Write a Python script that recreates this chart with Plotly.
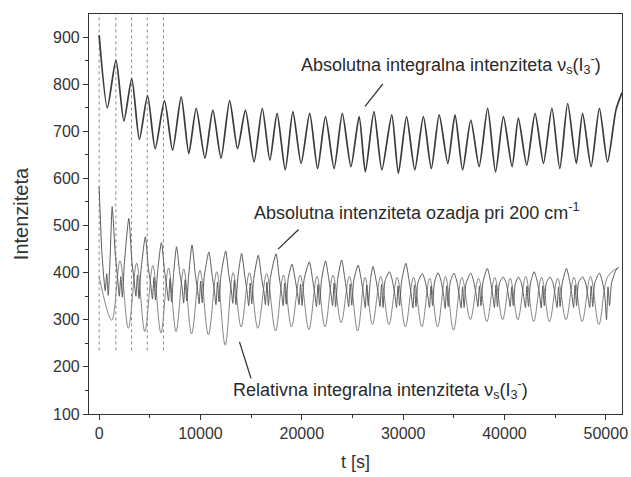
import plotly.graph_objects as go

# ---------------- data ----------------
# Upper curve: Absolutna integralna intenziteta  (alternating peaks / troughs)
abs_peak_t = [0, 1660, 3220, 4780, 6450, 8100, 9580, 11220, 12880, 14440, 16100, 17560,
              19120, 20780, 22340, 24000, 25660, 27120, 28880, 30340, 32000, 33560, 35120,
              36680, 38340, 39900, 41370, 43020, 44680, 46240, 47710, 49370]
abs_peak_v = [904, 851, 812, 776, 765, 773, 749, 745, 765, 745, 749, 738, 742, 738, 731, 738,
              731, 742, 735, 731, 731, 735, 735, 724, 749, 731, 728, 738, 749, 759, 738, 749]
abs_trough_t = [810, 2440, 3970, 5530, 7250, 8850, 10440, 12030, 13660, 15290, 16850, 18370,
                19930, 21560, 23190, 24850, 26270, 27900, 29530, 31150, 32780, 34410, 35870,
                37500, 39120, 40750, 42200, 43850, 45460, 47090, 48550, 50170]
abs_trough_v = [750, 722, 683, 663, 660, 653, 643, 643, 663, 635, 639, 618, 632, 621, 621, 625,
                614, 618, 611, 618, 621, 632, 618, 625, 614, 625, 628, 632, 621, 632, 625, 635]
abs_end_t = [51000, 51600]
abs_end_v = [745, 782]

# Background intensity at 200 cm-1 (noisy), per cycle: list of (t, value)
bg_cycles = [
    [(0, 582), (250, 450), (450, 392), (600, 362), (750, 398), (900, 352), (1080, 430)],
    [(1290, 540), (1590, 440), (1840, 385), (1990, 350), (2140, 392), (2290, 348), (2490, 420)],
    [(2930, 515), (3230, 425), (3480, 378), (3630, 350), (3780, 395), (3930, 345), (4130, 405)],
    [(4560, 476), (4860, 410), (5110, 372), (5260, 344), (5410, 390), (5560, 342), (5760, 400)],
    [(6150, 464), (6450, 405), (6700, 365), (6850, 340), (7000, 388), (7150, 338), (7350, 398)],
    [(7640, 455), (7940, 402), (8190, 368), (8340, 336), (8490, 385), (8640, 340), (8840, 395)],
    [(9170, 459), (9470, 400), (9720, 362), (9870, 334), (10020, 382), (10170, 336), (10370, 392)],
    [(10830, 444), (11130, 398), (11380, 360), (11530, 332), (11680, 380), (11830, 338), (12030, 395)],
    [(12490, 446), (12790, 396), (13040, 364), (13190, 335), (13340, 384), (13490, 332), (13690, 390)],
    [(14060, 441), (14360, 395), (14610, 358), (14760, 330), (14910, 378), (15060, 334), (15260, 388)],
    [(15710, 437), (16010, 392), (16260, 360), (16410, 332), (16560, 380), (16710, 330), (16910, 390)],
    [(17460, 440), (17760, 392), (18010, 356), (18160, 330), (18310, 378), (18460, 333), (18660, 388)],
    [(19030, 418), (19330, 388), (19580, 355), (19730, 332), (19880, 376), (20030, 330), (20230, 386)],
    [(20750, 423), (21050, 388), (21300, 352), (21450, 328), (21600, 375), (21750, 332), (21950, 385)],
    [(22340, 425), (22640, 390), (22890, 354), (23040, 330), (23190, 378), (23340, 328), (23540, 386)],
    [(23930, 427), (24230, 390), (24480, 352), (24630, 328), (24780, 376), (24930, 331), (25130, 384)],
    [(25560, 416), (25860, 386), (26110, 350), (26260, 326), (26410, 374), (26560, 330), (26760, 382)],
    [(27020, 413), (27320, 385), (27570, 352), (27720, 328), (27870, 375), (28020, 326), (28220, 383)],
    [(28650, 402), (28950, 382), (29200, 350), (29350, 326), (29500, 372), (29650, 330), (29850, 382)],
    [(30270, 420), (30570, 386), (30820, 350), (30970, 325), (31120, 374), (31270, 328), (31470, 380)],
    [(31900, 398), (32200, 380), (32450, 348), (32600, 326), (32750, 372), (32900, 330), (33100, 380)],
    [(33450, 400), (33750, 382), (34000, 350), (34150, 324), (34300, 372), (34450, 328), (34650, 380)],
    [(35020, 399), (35320, 380), (35570, 346), (35720, 325), (35870, 370), (36020, 326), (36220, 378)],
    [(36680, 399), (36980, 380), (37230, 350), (37380, 328), (37530, 372), (37680, 330), (37880, 380)],
    [(38310, 409), (38610, 384), (38860, 350), (39010, 326), (39160, 374), (39310, 328), (39510, 378)],
    [(39870, 391), (40170, 378), (40420, 348), (40570, 328), (40720, 370), (40870, 330), (41070, 376)],
    [(41370, 391), (41670, 378), (41920, 346), (42070, 326), (42220, 372), (42370, 328), (42570, 378)],
    [(42930, 402), (43230, 382), (43480, 350), (43630, 325), (43780, 372), (43930, 330), (44130, 378)],
    [(44490, 391), (44790, 378), (45040, 346), (45190, 326), (45340, 370), (45490, 328), (45690, 376)],
    [(46120, 409), (46420, 384), (46670, 350), (46820, 326), (46970, 374), (47120, 330), (47320, 380)],
    [(47710, 391), (48010, 378), (48260, 346), (48410, 326), (48560, 372), (48710, 328), (48910, 378)],
    [(49370, 399), (49670, 380), (49920, 348), (50070, 300), (50220, 370), (50370, 330), (50570, 378)],
    [(51000, 405), (51250, 412)],
]

# Relative integral intensity (thin curve): start, troughs, peaks, end
rel_start_t = [0]
rel_start_v = [392]
rel_trough_t = [1240, 2880, 4510, 6100, 7590, 9120, 10780, 12440, 14010, 15660, 17410, 18980,
                20700, 22290, 23880, 25510, 26970, 28600, 30220, 31850, 33400, 34970, 36630,
                38260, 39820, 41320, 42880, 44440, 46070, 47660, 49320]
rel_trough_v = [299, 282, 275, 272, 275, 270, 268, 246, 285, 282, 276, 285, 279, 285, 294, 276,
                290, 290, 285, 285, 285, 278, 300, 296, 300, 300, 296, 296, 300, 296, 290]
rel_peak_t = [2060, 3700, 5300, 6850, 8350, 9950, 11610, 13220, 14830, 16530, 18190, 19840,
              21500, 23080, 24700, 26240, 27790, 29410, 31030, 32620, 34180, 35800, 37440,
              39040, 40570, 42100, 43660, 45250, 46860, 48490]
rel_peak_v = [425, 420, 415, 410, 408, 405, 402, 400, 400, 398, 395, 395, 392, 395, 392, 390,
              392, 390, 390, 388, 392, 390, 388, 390, 388, 392, 390, 388, 390, 392]
rel_end_t = [50200, 51150]
rel_end_v = [392, 410]

# dashed guide lines at the first upper-curve maxima
guide_t = [0, 1650, 3200, 4750, 6350]
guide_lo, guide_hi = 235, 950

x_range = [-1000, 51600]
y_range = [100, 949]
x_ticks = [0, 10000, 20000, 30000, 40000, 50000]
y_ticks = [100, 200, 300, 400, 500, 600, 700, 800, 900]

# ---------------- build series ----------------
def alternate(t0, v0, t1, v1):
    pts = sorted(list(zip(t0, v0)) + list(zip(t1, v1)))
    return [p[0] for p in pts], [p[1] for p in pts]

abs_t, abs_v = alternate(abs_peak_t, abs_peak_v, abs_trough_t, abs_trough_v)
abs_t += abs_end_t
abs_v += abs_end_v

bg_t = [p[0] for c in bg_cycles for p in c]
bg_v = [p[1] for c in bg_cycles for p in c]

rel_t, rel_v = alternate(rel_trough_t, rel_trough_v, rel_peak_t, rel_peak_v)
rel_t = rel_start_t + rel_t + rel_end_t
rel_v = rel_start_v + rel_v + rel_end_v

FONT = "Arial, Liberation Sans, sans-serif"
fig = go.Figure()

for gt in guide_t:
    fig.add_trace(go.Scatter(x=[gt, gt], y=[guide_lo, guide_hi], mode="lines",
                             line=dict(color="#8a8a8a", width=1, dash="dot"),
                             hoverinfo="skip", showlegend=False))

fig.add_trace(go.Scatter(x=rel_t, y=rel_v, mode="lines",
                         line=dict(color="#858585", width=1.0, shape="spline", smoothing=1.0),
                         showlegend=False))
fig.add_trace(go.Scatter(x=bg_t, y=bg_v, mode="lines",
                         line=dict(color="#5a5a5a", width=1.0, shape="spline", smoothing=0.6),
                         showlegend=False))
fig.add_trace(go.Scatter(x=abs_t, y=abs_v, mode="lines",
                         line=dict(color="#3a3a3a", width=1.7, shape="spline", smoothing=0.65),
                         showlegend=False))

ann_font = dict(family=FONT, size=18, color="#2a2a2a")
annotations = [
    dict(x=34730, y=842, text="Absolutna integralna intenziteta ν<sub>s</sub>(I<sub>3</sub><sup>-</sup>)",
         showarrow=False, font=ann_font),
    dict(x=31320, y=529, text="Absolutna intenziteta ozadja pri 200 cm<sup>-1</sup>",
         showarrow=False, font=ann_font),
    dict(x=27760, y=151, text="Relativna integralna intenziteta ν<sub>s</sub>(I<sub>3</sub><sup>-</sup>)",
         showarrow=False, font=ann_font),
    # pointer lines
    dict(x=26240, y=753, ax=19, ay=-24, text="", showarrow=True, arrowhead=0,
         arrowwidth=1.3, arrowcolor="#333333"),
    dict(x=17660, y=450, ax=22, ay=-21, text="", showarrow=True, arrowhead=0,
         arrowwidth=1.3, arrowcolor="#333333"),
    dict(x=13850, y=253, ax=12, ay=38, text="", showarrow=True, arrowhead=0,
         arrowwidth=1.3, arrowcolor="#333333"),
]

axis_common = dict(showline=True, linecolor="#333333", linewidth=1.2, mirror=True,
                   showgrid=False, zeroline=False, ticks="outside", ticklen=5,
                   tickwidth=1.2, tickcolor="#333333", ticklabeloverflow="allow",
                   tickfont=dict(family=FONT, size=16, color="#333333"))

fig.update_layout(
    width=631, height=477,
    margin=dict(l=89, r=3, t=14, b=63),
    paper_bgcolor="white", plot_bgcolor="white",
    annotations=annotations,
    xaxis=dict(range=x_range, tickvals=x_ticks, ticktext=[str(v) for v in x_ticks],
               minor=dict(dtick=5000, ticks="outside", ticklen=3, tickcolor="#333333"),
               title=dict(text="t [s]", font=dict(family=FONT, size=18, color="#333333"),
                          standoff=14),
               **axis_common),
    yaxis=dict(range=y_range, tickvals=y_ticks, ticktext=[str(v) for v in y_ticks],
               minor=dict(dtick=50, ticks="outside", ticklen=3, tickcolor="#333333"),
               title=dict(text="Intenziteta", font=dict(family=FONT, size=20, color="#333333"),
                          standoff=18),
               **axis_common),
)

fig.write_html("out.html")
